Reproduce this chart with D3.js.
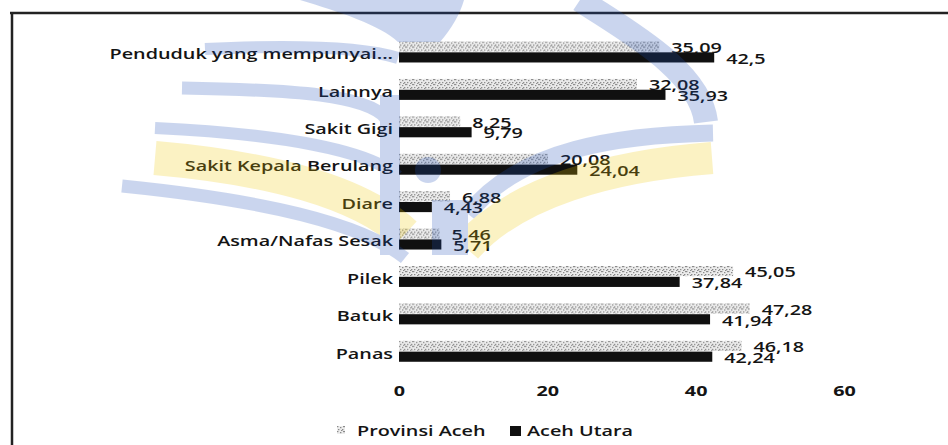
<!DOCTYPE html>
<head>
<meta charset="utf-8">
<script src="https://d3js.org/d3.v7.min.js"></script>
<style>
  body { margin: 0; background: #fff; }
  svg { display: block; font-family: "Open Sans", sans-serif; }
</style>
</head>
<body>
  <svg id="chart" width="948" height="445"></svg>
  <script>
    // data
    const categories = ["Penduduk yang mempunyai...", "Lainnya", "Sakit Gigi",
      "Sakit Kepala Berulang", "Diare", "Asma/Nafas Sesak", "Pilek", "Batuk", "Panas"];
    const seriesNames = ["Provinsi Aceh", "Aceh Utara"];
    const provinsiAceh = [35.09, 32.08, 8.25, 20.08, 6.88, 5.46, 45.05, 47.28, 46.18];
    const acehUtara = [42.5, 35.93, 9.79, 24.04, 4.43, 5.71, 37.84, 41.94, 42.24];
    const xTicks = [0, 20, 40, 60];

    const svg = d3.select("#chart");
    const ink = "#141414";
    const stretch = "scale(1.32,1)"; // the scan is wider than it is tall

    const rows = categories.map((c, i) => ({
      cat: c,
      values: [
        { key: seriesNames[0], v: provinsiAceh[i] },
        { key: seriesNames[1], v: acehUtara[i] }
      ]
    }));

    const x = d3.scaleLinear().domain([0, 60]).range([399, 844]);
    const y = d3.scaleBand().domain(categories).range([33.3, 370])
      .paddingInner(0.44).paddingOuter(0.22);
    const y1 = d3.scaleBand().domain(seriesNames).range([0, y.bandwidth()]).paddingInner(0.06);

    // speckled fill for the light series
    const defs = svg.append("defs");
    const pat = defs.append("pattern")
      .attr("id", "speckle")
      .attr("patternUnits", "userSpaceOnUse")
      .attr("width", 7).attr("height", 5);
    pat.append("rect").attr("width", 7).attr("height", 5).attr("fill", "#ececec");
    [[0, 0], [3, 1], [5, 3], [1, 3], [4, 4], [6, 0]].forEach(p => {
      pat.append("rect").attr("x", p[0]).attr("y", p[1])
        .attr("width", 1.4).attr("height", 1.2).attr("fill", "#8a8a8a");
    });
    const fill = d3.scaleOrdinal().domain(seriesNames).range(["url(#speckle)", "#101010"]);

    // frame
    svg.append("line").attr("x1", 10).attr("x2", 948).attr("y1", 13).attr("y2", 13)
      .attr("stroke", "#222").attr("stroke-width", 2.5);
    svg.append("line").attr("x1", 12).attr("x2", 12).attr("y1", 12).attr("y2", 445)
      .attr("stroke", "#222").attr("stroke-width", 2.5);

    // bars
    const groups = svg.append("g").selectAll("g")
      .data(rows)
      .join("g")
      .attr("transform", d => `translate(0,${y(d.cat)})`);

    groups.selectAll("rect")
      .data(d => d.values)
      .join("rect")
      .attr("x", x(0))
      .attr("y", d => y1(d.key))
      .attr("width", d => x(d.v) - x(0))
      .attr("height", y1.bandwidth())
      .attr("fill", d => fill(d.key));

    groups.selectAll("text")
      .data(d => d.values)
      .join("text")
      .attr("transform", d => `translate(${x(d.v) + 12},${y1(d.key) + y1.bandwidth() / 2 + 1}) ${stretch}`)
      .attr("dy", "0.35em")
      .attr("font-size", 15)
      .attr("font-weight", 600)
      .attr("fill", ink)
      .text(d => String(d.v).replace(".", ","));

    // category labels
    svg.append("g").selectAll("text")
      .data(categories)
      .join("text")
      .attr("transform", d => `translate(393,${y(d) + y.bandwidth() / 2 + 2}) ${stretch}`)
      .attr("dy", "0.35em")
      .attr("text-anchor", "end")
      .attr("font-size", 15)
      .attr("font-weight", 600)
      .attr("fill", ink)
      .text(d => d);

    // value axis, labels only
    const axis = svg.append("g")
      .attr("transform", "translate(0,385)")
      .call(d3.axisBottom(x).tickValues(xTicks).tickSize(0).tickPadding(0));
    axis.select(".domain").remove();
    axis.selectAll("text")
      .attr("font-family", "Open Sans, sans-serif")
      .attr("font-size", 15)
      .attr("font-weight", 700)
      .attr("fill", ink)
      .attr("transform", stretch);

    // legend
    const legend = svg.append("g").attr("transform", "translate(0,431)");
    const legendX = [337, 510];
    const legendItem = legend.selectAll("g")
      .data(seriesNames)
      .join("g")
      .attr("transform", (d, i) => `translate(${legendX[i]},0)`);
    legendItem.append("rect")
      .attr("x", 0).attr("y", -5)
      .attr("width", (d, i) => i ? 11 : 8)
      .attr("height", (d, i) => i ? 10 : 8)
      .attr("fill", d => fill(d));
    legendItem.append("text")
      .attr("transform", (d, i) => `translate(${i ? 17 : 20},0) ${stretch}`)
      .attr("dy", "0.35em")
      .attr("font-size", 15)
      .attr("font-weight", 600)
      .attr("fill", ink)
      .text(d => d);

    // faint watermark printed over the scan
    const wm = svg.append("g").attr("opacity", 0.23).attr("fill", "none");
    const blue = "#2050b8", yellow = "#f0c800";
    wm.append("path").attr("d", "M300,0 C340,12 380,25 398,42 L440,42 C452,28 460,14 464,0 Z")
      .attr("fill", blue);
    [
      ["M205,49 C290,45 360,46 398,58", 12, blue],
      ["M182,88 C300,90 365,95 386,118 L390,150", 13, blue],
      ["M155,128 C280,134 368,150 398,176", 12, blue],
      ["M155,158 C270,168 360,192 405,234", 34, yellow],
      ["M122,186 C260,200 360,222 405,258", 13, blue],
      ["M580,0 C625,30 700,70 706,122", 24, blue],
      ["M713,133 C620,135 520,148 468,214", 17, blue],
      ["M712,158 C610,166 515,192 466,248", 32, yellow],
      ["M390,95 L390,255", 20, blue],
      ["M450,200 L450,255", 36, blue]
    ].forEach(s => {
      wm.append("path").attr("d", s[0]).attr("stroke", s[2]).attr("stroke-width", s[1]);
    });
    wm.append("circle").attr("cx", 428).attr("cy", 170).attr("r", 13).attr("fill", blue);
  </script>
</body>
